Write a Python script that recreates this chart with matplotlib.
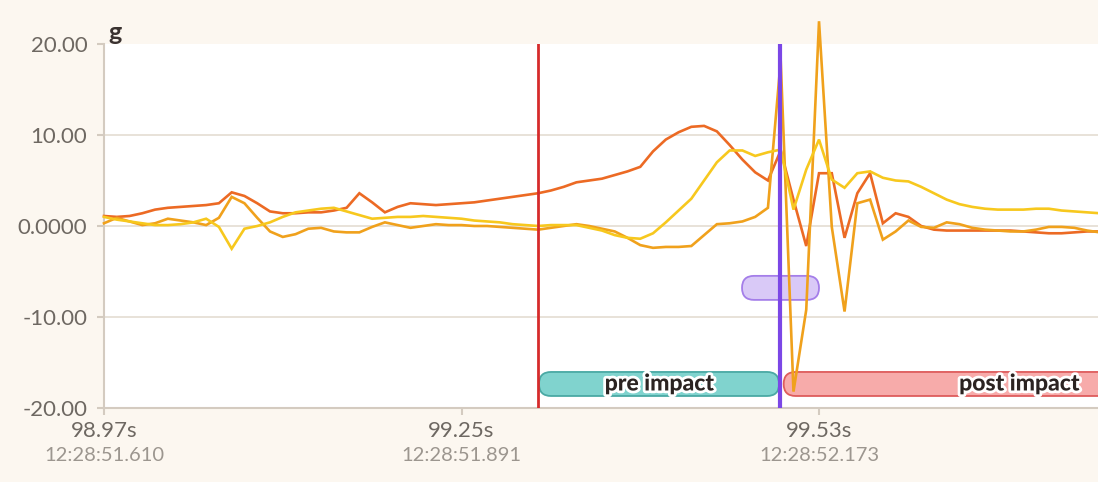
import numpy as np
import matplotlib
matplotlib.use("Agg")
import matplotlib.pyplot as plt
import matplotlib.patheffects as pe
from matplotlib.patches import FancyBboxPatch

# ---- data (100 Hz samples starting at 98.97 s) ----
T0 = 98.97
DT = 0.01

accel_a = [1.1, 1.0, 1.1, 1.4, 1.8, 2.0, 2.1, 2.2, 2.3, 2.5,
           3.7, 3.3, 2.5, 1.6, 1.4, 1.4, 1.5, 1.5, 1.7, 2.0,
           3.6, 2.6, 1.5, 2.1, 2.5, 2.4, 2.3, 2.4, 2.5, 2.6,
           2.8, 3.0, 3.2, 3.4, 3.6, 3.9, 4.3, 4.8, 5.0, 5.2,
           5.6, 6.0, 6.5, 8.2, 9.5, 10.3, 10.9, 11.0, 10.4, 8.9,
           7.3, 5.9, 5.0, 8.3, 2.9, -2.2, 5.8, 5.8, -1.3, 3.6,
           5.8, 0.3, 1.4, 1.0, 0.0, -0.4, -0.5, -0.5, -0.5, -0.5,
           -0.5, -0.5, -0.6, -0.7, -0.8, -0.8, -0.7, -0.6, -0.6]

accel_b = [0.3, 0.9, 0.5, 0.1, 0.3, 0.8, 0.6, 0.4, 0.1, 0.9,
           3.2, 2.5, 0.9, -0.6, -1.2, -0.9, -0.3, -0.2, -0.6, -0.7,
           -0.7, -0.1, 0.4, 0.1, -0.2, 0.0, 0.2, 0.1, 0.1, 0.0,
           0.0, -0.1, -0.2, -0.3, -0.4, -0.2, 0.0, 0.2, 0.0, -0.3,
           -0.6, -1.3, -2.1, -2.4, -2.3, -2.3, -2.2, -1.0, 0.2, 0.3,
           0.5, 1.0, 2.0, 18.2, -18.2, -9.2, 22.5, -0.1, -9.4, 2.5,
           2.9, -1.5, -0.6, 0.6, -0.1, -0.2, 0.4, 0.2, -0.2, -0.4,
           -0.5, -0.6, -0.6, -0.4, -0.1, -0.1, -0.2, -0.5, -0.7]

accel_c = [1.0, 0.7, 0.5, 0.3, 0.1, 0.1, 0.2, 0.4, 0.8, -0.1,
           -2.5, -0.3, 0.0, 0.4, 1.0, 1.5, 1.7, 1.9, 2.0, 1.6,
           1.2, 0.8, 0.9, 1.0, 1.0, 1.1, 1.0, 0.9, 0.8, 0.6,
           0.5, 0.4, 0.2, 0.1, 0.0, 0.1, 0.1, 0.1, -0.2, -0.5,
           -1.0, -1.3, -1.4, -0.8, 0.4, 1.7, 3.0, 5.0, 7.0, 8.3,
           8.3, 7.7, 8.1, 8.4, 1.8, 6.2, 9.5, 5.1, 4.2, 5.8,
           6.0, 5.3, 5.0, 4.9, 4.3, 3.6, 2.9, 2.4, 2.1, 1.9,
           1.8, 1.8, 1.8, 1.9, 1.9, 1.7, 1.6, 1.5, 1.4]

SERIES = [accel_a, accel_b, accel_c]
SERIES_COLORS = ["#ec6a24", "#f0a11c", "#f7c81e"]

# markers / annotations
MARK_PRE = 99.31          # red line
MARK_IMPACT = 99.4995     # purple line
PRE_SPAN = (99.3107, 99.4987)
POST_SPAN = (99.5023, 99.871)
PURPLE_SPAN = (99.4697, 99.5300)
PILL_Y = -17.36
PURPLE_PILL_Y = -6.8
PILL_H = 2.64

X_TICKS = [98.97, 99.25, 99.53]
X_TICK_LABELS = ["98.97s", "99.25s", "99.53s"]
X_CLOCK_LABELS = ["12:28:51.610", "12:28:51.891", "12:28:52.173"]
Y_TICKS = [-20, -10, 0, 10, 20]
Y_TICK_LABELS = ["-20.00", "-10.00", "0.0000", "10.00", "20.00"]

XLIM = (98.97, 99.7485)
YLIM = (-20, 20)

# ---- style ----
plt.rcParams['font.family'] = ['Lato', 'DejaVu Sans']
BG = "#fcf7f0"
SPINE = "#d4cbc0"
GRID = "#e6dfd6"
TICK_TXT = "#6e6862"
CLOCK_TXT = "#9c968f"

W, H = 1098, 482
fig = plt.figure(figsize=(W / 100, H / 100), dpi=100, facecolor=BG)
ax = fig.add_axes([104 / W, (H - 408) / H, 1 - 104 / W, (408 - 44) / H])
ax.set_facecolor("white")

t = T0 + DT * np.arange(len(accel_a))
for vals, col in zip(SERIES, SERIES_COLORS):
    ax.plot(t, vals, color=col, lw=1.9, zorder=4, clip_on=False,
            solid_joinstyle='miter')

ax.set_xlim(*XLIM)
ax.set_ylim(*YLIM)

# pixels -> data aspect so the pill ends come out round
x_per_px = (XLIM[1] - XLIM[0]) / (W - 104)
y_per_px = (YLIM[1] - YLIM[0]) / (408 - 44)
aspect = y_per_px / x_per_px
rad = 12 * x_per_px


def pill(x0, x1, yc, face, edge, z):
    p = FancyBboxPatch((x0, yc - PILL_H / 2), x1 - x0, PILL_H,
                       boxstyle=f"round,pad=0,rounding_size={rad}",
                       mutation_aspect=aspect, facecolor=face,
                       edgecolor=edge, lw=1.3, zorder=z)
    ax.add_patch(p)


pill(*PRE_SPAN, PILL_Y, "#80d3ce", "#4aa9a4", 3)
pill(*POST_SPAN, PILL_Y, "#f7abaa", "#de5c5c", 3)
pill(*PURPLE_SPAN, PURPLE_PILL_Y, "#d9c9f7", "#a47ee9", 3)

stroke = [pe.withStroke(linewidth=4, foreground="white")]
ax.text(sum(PRE_SPAN) / 2, PILL_Y, "pre impact", ha='center', va='center',
        fontsize=16.5, fontweight='black', color="#2b2321",
        path_effects=stroke, zorder=7)
ax.text(sum(POST_SPAN) / 2, PILL_Y, "post impact", ha='center', va='center',
        fontsize=16.5, fontweight='black', color="#2b2321",
        path_effects=stroke, zorder=7)

ax.axvline(MARK_PRE, color="#d62b2b", lw=2.0, zorder=5)
ax.axvline(MARK_IMPACT, color="#7b47e6", lw=3.0, zorder=6)

# axes cosmetics
for s in ['top', 'right']:
    ax.spines[s].set_visible(False)
for s in ['left', 'bottom']:
    ax.spines[s].set_color(SPINE)
    ax.spines[s].set_linewidth(1.5)

ax.set_yticks(Y_TICKS)
ax.set_yticklabels(Y_TICK_LABELS)
ax.set_xticks(X_TICKS)
ax.set_xticklabels(X_TICK_LABELS)
ax.tick_params(axis='both', colors=SPINE, labelcolor=TICK_TXT, width=1.5,
               length=5, labelsize=16)
ax.tick_params(axis='y', pad=7)
ax.tick_params(axis='x', pad=4.5)

ax.yaxis.grid(True, color=GRID, lw=1.3, zorder=0)
ax.set_axisbelow(True)
ax.get_ygridlines()[-1].set_visible(False)

for x, lab in zip(X_TICKS, X_CLOCK_LABELS):
    ax.annotate(lab, xy=(x, 0), xycoords=('data', 'axes fraction'),
                xytext=(0, -28), textcoords='offset points', ha='center',
                va='top', fontsize=14.5, color=CLOCK_TXT, annotation_clip=False)

ax.annotate("g", xy=(0, 1), xycoords='axes fraction', xytext=(3, 3),
            textcoords='offset points', ha='left', va='baseline',
            fontsize=18, fontweight='bold', color="#3a3230")

fig.savefig("out.png", dpi=100, facecolor=BG)
